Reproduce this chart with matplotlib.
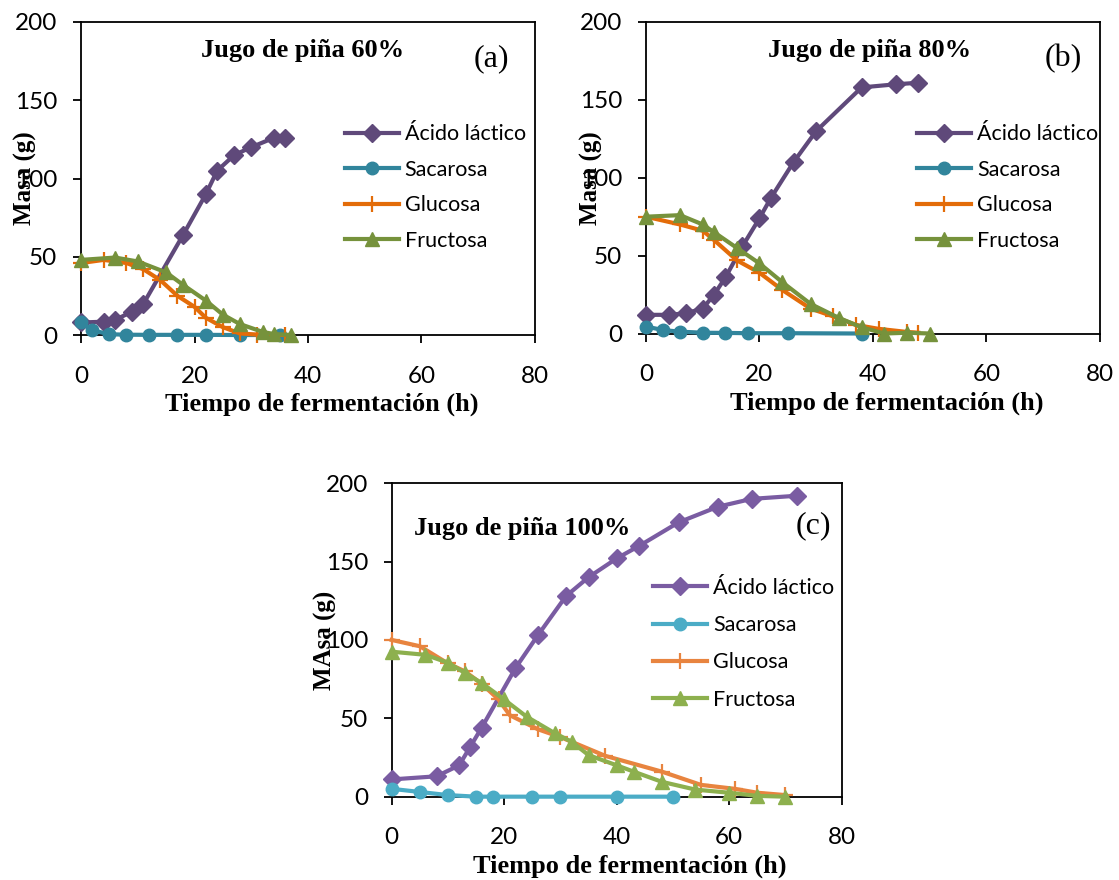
import matplotlib
matplotlib.use("Agg")
import matplotlib.pyplot as plt

# ---- data (time in h, mass in g) ----
# panel (a): Jugo de piña 60%
lac_a_t = [0, 4, 6, 9, 11, 18, 22, 24, 27, 30, 34, 36]
lac_a = [8, 8.5, 9.6, 15, 20, 64, 90, 105, 115, 120, 126, 126]
suc_a_t = [0, 2, 5, 8, 12, 17, 22, 28, 35]
suc_a = [8, 3, 0.5, 0.2, 0.1, 0.1, 0.1, 0, 0]
glu_a_t = [0, 4, 8, 11, 14, 17, 20, 22, 25, 28, 31, 36]
glu_a = [46, 48, 46, 42, 35, 25, 18, 11, 5, 1, 0.3, 0]
fru_a_t = [0, 6, 10, 15, 18, 22, 25, 28, 32, 34, 37]
fru_a = [48, 49.5, 47, 40, 32, 22, 13, 7, 2, 0.6, 0]

# panel (b): Jugo de piña 80%
lac_b_t = [0, 4, 7, 10, 12, 14, 17, 20, 22, 26, 30, 38, 44, 48]
lac_b = [12, 12, 13, 16, 25, 36, 56, 74, 87, 110, 130, 158, 160, 161]
suc_b_t = [0, 3, 6, 10, 14, 18, 25, 38]
suc_b = [4.5, 2.2, 1.2, 0.5, 0.4, 0.2, 0.2, 0]
glu_b_t = [0, 6, 10, 12, 16, 20, 24, 29, 33, 37, 41, 46, 48]
glu_b = [75, 70, 66, 60, 47, 39, 28, 16, 11, 5.5, 3, 1, 0.5]
fru_b_t = [0, 6, 10, 12, 16, 20, 24, 29, 34, 38, 42, 46, 50]
fru_b = [75, 76, 70, 65, 55, 45, 33, 19, 10, 4, 0, 0.5, 0]

# panel (c): Jugo de piña 100%
lac_c_t = [0, 8, 12, 14, 16, 22, 26, 31, 35, 40, 44, 51, 58, 64, 72]
lac_c = [11, 13, 20, 32, 44, 82, 103, 128, 140, 152, 160, 175, 185, 190, 192]
suc_c_t = [0, 5, 10, 15, 18, 25, 30, 40, 50]
suc_c = [5, 3, 1, 0, 0, 0, 0, 0, 0]
glu_c_t = [0, 5, 10, 13, 16, 19, 21, 26, 30, 38, 48, 55, 61, 65, 70]
glu_c = [100, 96, 85, 80, 72, 62, 52, 43, 38, 26, 16, 7.5, 5, 2.5, 1]
fru_c_t = [0, 6, 10, 13, 16, 20, 24, 29, 32, 35, 40, 43, 48, 54, 60, 65, 70]
fru_c = [92.5, 90.5, 85.5, 79, 72.5, 62, 51, 40.5, 35, 26.5, 20, 16, 9.5, 4.5, 2.5, 0.5, 0]

series_names = ["Ácido láctico", "Sacarosa", "Glucosa", "Fructosa"]
x_ticks = [0, 20, 40, 60, 80]
y_ticks = [0, 50, 100, 150, 200]

dark_colors = ["#5F497A", "#31859C", "#E36C09", "#76923C"]
light_colors = ["#7A5CA2", "#4BACC6", "#E8843F", "#8DB04E"]

SERIF = "Liberation Serif"
SANS = "Lato"


def draw_panel(ax, series, colors, title, title_xy, tag, tag_xy, ylabel, legend_xy,
               spacing=0.72):
    """Draw one fermentation panel with its four series."""
    markers = [("D", 9, 1.0), ("o", 9, 1.0), ("+", 11, 1.6), ("^", 10, 1.0)]
    for (t, v), name, col, (mk, ms, mew) in zip(series, series_names, colors, markers):
        ax.plot(t, v, color=col, lw=3, marker=mk, ms=ms, mew=mew,
                mfc=col, mec=col, label=name, clip_on=False, zorder=3)

    ax.set_xlim(0, 80)
    ax.set_ylim(0, 200)
    ax.set_xticks(x_ticks)
    ax.set_yticks(y_ticks)
    ax.tick_params(axis="x", direction="out", length=6, width=1.3, pad=16,
                   labelsize=17.5)
    ax.tick_params(axis="y", direction="out", length=6, width=1.3, pad=11,
                   labelsize=17.5)
    for lab in ax.get_xticklabels() + ax.get_yticklabels():
        lab.set_fontfamily(SANS)
    for sp in ax.spines.values():
        sp.set_linewidth(1.3)

    ax.set_xlabel("Tiempo de fermentación (h)", fontfamily=SERIF,
                  fontweight="bold", fontsize=19, va="top")
    ax.xaxis.set_label_coords(0.53, -0.185)
    ax.set_ylabel(ylabel, fontfamily=SERIF, fontweight="bold", fontsize=18)

    ax.text(*title_xy, title, transform=ax.transAxes, ha="center", va="center",
            fontfamily=SERIF, fontweight="bold", fontsize=19)
    ax.text(*tag_xy, tag, transform=ax.transAxes, ha="center", va="center",
            fontfamily=SERIF, fontsize=23)

    ax.legend(loc="upper left", bbox_to_anchor=legend_xy, frameon=False,
              prop={"family": SANS, "size": 15.5}, handlelength=2.5,
              handletextpad=0.28, labelspacing=spacing, borderpad=0,
              borderaxespad=0)


fig = plt.figure(figsize=(11.19, 8.80), dpi=100)
ax_a = fig.add_axes([0.0724, 0.6193, 0.4057, 0.3557])
ax_b = fig.add_axes([0.5773, 0.6210, 0.4057, 0.3540])
ax_c = fig.add_axes([0.3500, 0.0947, 0.4022, 0.3562])

draw_panel(ax_a, [(lac_a_t, lac_a), (suc_a_t, suc_a), (glu_a_t, glu_a), (fru_a_t, fru_a)],
           dark_colors, "Jugo de piña 60%", (0.489, 0.91), "(a)", (0.903, 0.882),
           "Masa (g)", (0.581, 0.673))
draw_panel(ax_b, [(lac_b_t, lac_b), (suc_b_t, suc_b), (glu_b_t, glu_b), (fru_b_t, fru_b)],
           dark_colors, "Jugo de piña 80%", (0.493, 0.91), "(b)", (0.92, 0.884),
           "Masa (g)", (0.597, 0.672))
draw_panel(ax_c, [(lac_c_t, lac_c), (suc_c_t, suc_c), (glu_c_t, glu_c), (fru_c_t, fru_c)],
           light_colors, "Jugo de piña 100%", (0.289, 0.856), "(c)", (0.937, 0.864),
           "MAsa (g)", (0.581, 0.698), spacing=0.8)

ax_a.yaxis.set_label_coords(-0.097, 0.5)
ax_b.yaxis.set_label_coords(-0.095, 0.5)
ax_c.yaxis.set_label_coords(-0.1216, 0.5)

fig.savefig("out.png", dpi=100)
